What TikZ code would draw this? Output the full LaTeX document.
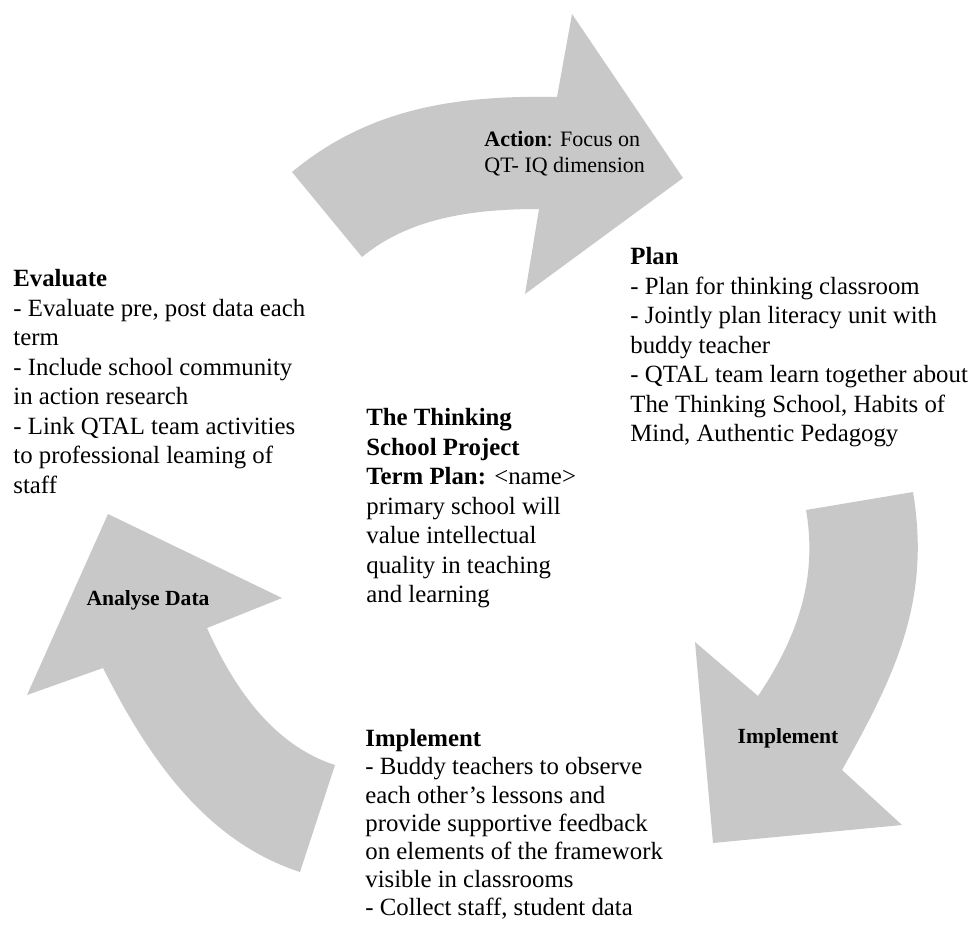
\documentclass[tikz,border=0pt]{standalone}
\usepackage{fontspec}
\setmainfont{Liberation Serif}
\usepackage{tikz}
\definecolor{arrowgrey}{RGB}{200,200,200}
\tikzset{
	cyclearrow/.style={fill=arrowgrey, draw=none},
	blocktext/.style={anchor=north west, inner sep=0pt, align=left, font=\fontsize{12.4}{14.75}\selectfont},
	arrowlabel/.style={anchor=base, inner sep=0pt, font=\fontsize{10.8}{13}\selectfont\bfseries}
}

\begin{document}
\begin{tikzpicture}[x=0.5pt, y=-0.5pt]
			%%%%% START %%%%%
			
			\useasboundingbox (0, 0) rectangle (972, 924);
			
			% top arrow
			\draw[cyclearrow] (292, 172) .. controls (369, 108) and (457, 95) .. (557, 97) -- (572, 14) -- (683, 178) -- (525, 294) -- (539, 209) .. controls (469, 209) and (408, 219) .. (362, 257) -- cycle;
			
			% right arrow
			\draw[cyclearrow] (806, 510) -- (913, 492) .. controls (931, 600) and (896, 674) .. (842, 770) -- (902, 825) -- (713, 843) -- (695, 642) -- (758, 696) .. controls (797, 638) and (818, 579) .. (806, 510) -- cycle;
			
			% left arrow
			\draw[cyclearrow] (335, 765) -- (300, 872) .. controls (205, 841) and (148, 757) .. (103, 668) -- (27, 695) -- (108, 514) -- (282, 598) -- (207, 628) .. controls (234, 688) and (273, 745) .. (335, 765) -- cycle;
			
			\node[anchor=north west, inner sep=0pt, align=left, font=\fontsize{11}{13}\selectfont] (action) at (484, 131) {\textbf{Action}: Focus on\\QT- IQ dimension};
			\node[arrowlabel] (implementlabel) at (788, 743) {Implement};
			\node[arrowlabel] (analyselabel) at (148, 605) {Analyse Data};
			
			\node[blocktext] (evaluate) at (13, 269) {\textbf{Evaluate}\\- Evaluate pre, post data each\\term\\- Include school community\\in action research\\- Link QTAL team activities\\to professional leaming of\\staff};
			
			\node[blocktext] (plan) at (630, 247) {\textbf{Plan}\\- Plan for thinking classroom\\- Jointly plan literacy unit with\\buddy teacher\\- QTAL team learn together about\\The Thinking School, Habits of\\Mind, Authentic Pedagogy};
			
			\node[blocktext] (project) at (366, 408) {\textbf{The Thinking}\\\textbf{School Project}\\\textbf{Term Plan:} \textless{}name\textgreater{}\\primary school will\\value intellectual\\quality in teaching\\and learning};
			
			\node[blocktext, font=\fontsize{12.4}{14.1}\selectfont] (implement) at (365, 729) {\textbf{Implement}\\- Buddy teachers to observe\\each other's lessons and\\provide supportive feedback\\on elements of the framework\\visible in classrooms\\- Collect staff, student data};
			
			%%%%% END %%%%%
\end{tikzpicture}
\end{document}
